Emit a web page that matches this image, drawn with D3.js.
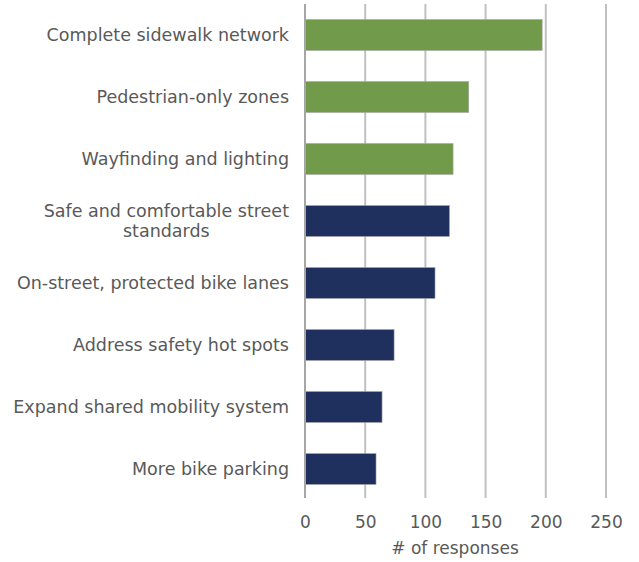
<!DOCTYPE html>
<html><head><meta charset="utf-8">
<script src="https://cdn.jsdelivr.net/npm/d3@7"></script>
<style>body{margin:0;background:#fff}</style>
</head><body>
<svg id="c" width="639" height="562"></svg>
<script>
const categories = [
  ["Complete sidewalk network"],
  ["Pedestrian-only zones"],
  ["Wayfinding and lighting"],
  ["Safe and comfortable street", "standards"],
  ["On-street, protected bike lanes"],
  ["Address safety hot spots"],
  ["Expand shared mobility system"],
  ["More bike parking"]
];
const values = [197, 136, 123, 120, 108, 74, 64, 59];
const groups = ["ped", "ped", "ped", "bike", "bike", "bike", "bike", "bike"];
const xTicks = [0, 50, 100, 150, 200, 250];
const axisTitle = "# of responses";

const colors = {ped: "#719b4a", bike: "#1f305e"};
const font = "'DejaVu Sans', sans-serif";
const svg = d3.select("#c");
const x = d3.scaleLinear().domain([0, 250]).range([305, 606]);
const y = d3.scaleBand().domain(d3.range(categories.length)).range([4, 500]).paddingInner(0.5).paddingOuter(0.25);

// gridlines
svg.append("g").selectAll("line").data(xTicks.slice(1)).join("line")
  .attr("x1", d => x(d)).attr("x2", d => x(d))
  .attr("y1", 4).attr("y2", 498)
  .attr("stroke", "#c0c0c0").attr("stroke-width", 2);

// bars
svg.append("g").selectAll("rect").data(values).join("rect")
  .attr("x", x(0)).attr("y", (d, i) => y(i))
  .attr("width", d => x(d) - x(0)).attr("height", y.bandwidth())
  .attr("fill", (d, i) => colors[groups[i]])
  .attr("stroke", "#a8a8a8").attr("stroke-width", 0.6);

// axis line at 0
svg.append("line").attr("x1", x(0)).attr("x2", x(0)).attr("y1", 4).attr("y2", 498)
  .attr("stroke", "#a6a6a6").attr("stroke-width", 2);

// x axis tick labels
const xAxis = d3.axisBottom(x).tickValues(xTicks).tickSize(0).tickPadding(0);
const gx = svg.append("g").attr("transform", "translate(0,516)").call(xAxis);
gx.select(".domain").remove();
gx.selectAll("text").attr("font-family", font).attr("font-size", 17).attr("fill", "#595959");

svg.append("text").attr("x", 455).attr("y", 554).attr("text-anchor", "middle")
  .attr("font-family", font).attr("font-size", 17).attr("fill", "#595959").text(axisTitle);

// category labels
const lab = svg.append("g");
const fs = 17.5;
categories.forEach((lines, i) => {
  const cy = y(i) + y.bandwidth() / 2;
  const lh = 20;
  const y0 = cy - (lines.length - 1) * lh / 2;
  const first = lab.append("text").attr("x", 289).attr("y", y0).attr("dy", "0.35em")
    .attr("text-anchor", "end").attr("font-family", font).attr("font-size", fs)
    .attr("fill", "#595959").text(lines[0]);
  if (lines.length > 1) {
    const w = first.node().getComputedTextLength();
    for (let k = 1; k < lines.length; k++) {
      lab.append("text").attr("x", 289 - w / 2).attr("y", y0 + k * lh).attr("dy", "0.35em")
        .attr("text-anchor", "middle").attr("font-family", font).attr("font-size", fs)
        .attr("fill", "#595959").text(lines[k]);
    }
  }
});
</script>
</body></html>
